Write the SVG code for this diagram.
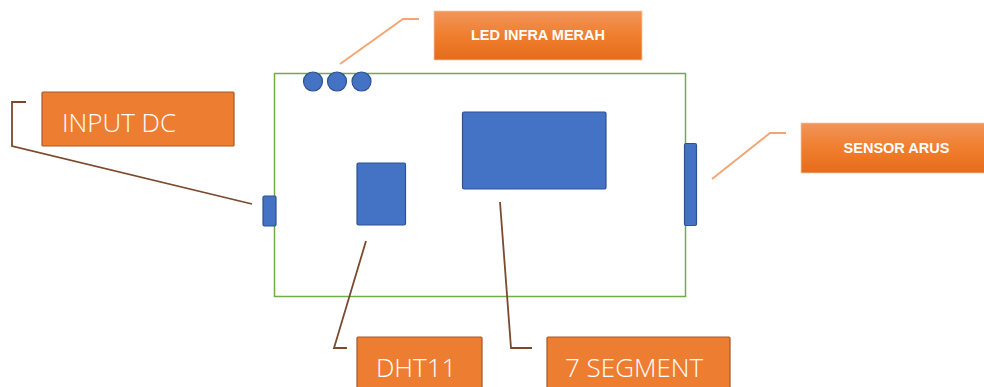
<svg xmlns="http://www.w3.org/2000/svg" width="984" height="387" viewBox="0 0 984 387">
  <defs>
    <linearGradient id="orangeGrad" x1="0" y1="0" x2="0" y2="1">
      <stop offset="0" stop-color="#F1955A"/>
      <stop offset="0.5" stop-color="#F07E2E"/>
      <stop offset="1" stop-color="#E56C1C"/>
    </linearGradient>
  </defs>
  <style>
    .board { fill: #FFFFFF; stroke: #70AD47; stroke-width: 1.5; }
    .part { fill: #4472C4; stroke: #2F528F; stroke-width: 1.2; }
    .label { fill: #ED7D31; stroke: #A9582A; stroke-width: 1.2; }
    .labelGrad { fill: url(#orangeGrad); stroke: #F6C8A6; stroke-width: 0.8; }
    .big { font-family: "Open Sans", "Liberation Sans", sans-serif; font-weight: 300; font-size: 26px; fill: #FFFFFF; }
    .small { font-family: "Liberation Sans", "Open Sans", sans-serif; font-weight: bold; font-size: 14.5px; fill: #FFFFFF; text-anchor: middle; }
    .lead { fill: none; stroke: #7B4A2D; stroke-width: 1.8; }
    .leadLight { fill: none; stroke: #F4A470; stroke-width: 1.8; }
  </style>

  <!-- circuit board outline -->
  <g id="board">
    <rect class="board" x="274.5" y="73.5" width="411" height="223"/>
  </g>

  <!-- parts mounted on the board -->
  <g id="led-array">
    <circle class="part" cx="313" cy="81.5" r="9.5"/>
    <circle class="part" cx="337" cy="81.5" r="9.5"/>
    <circle class="part" cx="361.5" cy="81.5" r="9.5"/>
  </g>
  <g id="dc-jack">
    <rect class="part" x="263" y="196" width="13" height="30" rx="1.5"/>
  </g>
  <g id="current-sensor">
    <rect class="part" x="684.5" y="143.5" width="12" height="82" rx="1.5"/>
  </g>
  <g id="dht11-part">
    <rect class="part" x="357" y="163" width="48.5" height="62" rx="1.5"/>
  </g>
  <g id="seven-segment-part">
    <rect class="part" x="462.5" y="112" width="143.5" height="77" rx="1.5"/>
  </g>

  <!-- leader lines -->
  <g id="connectors">
    <polyline class="lead" points="26,102 12,102 12,146 252,204"/>
    <polyline class="leadLight" points="340,64 403,19 419,19"/>
    <polyline class="leadLight" points="712,179 770,133 786,133"/>
    <polyline class="lead" points="366,241 334,348 347,348"/>
    <polyline class="lead" points="500,202 511,348 532,348"/>
  </g>

  <!-- callout labels -->
  <g id="label-input-dc">
    <rect class="label" x="42" y="92" width="192" height="54" rx="1"/>
    <text class="big" x="62" y="132">INPUT DC</text>
  </g>
  <g id="label-led">
    <rect class="labelGrad" x="434" y="11" width="208" height="49"/>
    <text class="small" x="538" y="40">LED INFRA MERAH</text>
  </g>
  <g id="label-sensor">
    <rect class="labelGrad" x="801" y="123" width="185" height="50"/>
    <text class="small" x="896.5" y="153">SENSOR ARUS</text>
  </g>
  <g id="label-dht11">
    <rect class="label" x="357" y="337" width="125" height="56" rx="1"/>
    <text class="big" x="376" y="377">DHT11</text>
  </g>
  <g id="label-seven-segment">
    <rect class="label" x="547" y="337" width="183" height="56" rx="1"/>
    <text class="big" x="565" y="377">7 SEGMENT</text>
  </g>
</svg>
